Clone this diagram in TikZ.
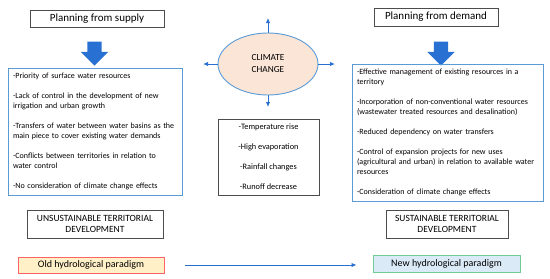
\documentclass[tikz,border=0pt]{standalone}
\usepackage{fontspec}
\setmainfont{Carlito}
\usepackage{tikz}
\usetikzlibrary{arrows.meta,shapes.geometric,shapes.arrows}
\definecolor{arrowblue}{RGB}{40,112,210}
\definecolor{frameblue}{RGB}{91,155,213}
\definecolor{climfill}{RGB}{251,229,214}
\definecolor{oldfill}{RGB}{255,240,200}
\definecolor{oldline}{RGB}{250,100,100}
\definecolor{newfill}{RGB}{218,234,247}
\definecolor{newline}{RGB}{110,205,150}

\begin{document}
\begin{tikzpicture}[x=1pt, y=-1pt, >={Latex[length=5pt,width=4.5pt]},
  title/.style={draw=black!70, line width=0.6pt, align=center, inner sep=0pt, font=\fontsize{11}{12}\selectfont},
  devbox/.style={draw=black!70, line width=0.6pt, align=center, inner sep=0pt, font=\fontsize{9.5}{11}\selectfont},
  listbox/.style={draw=frameblue, line width=0.8pt, align=left, inner xsep=5pt, inner ysep=0pt, font=\fontsize{8}{10}\selectfont},
  bigarrow/.style={single arrow, fill=arrowblue, rotate=-90, inner xsep=0pt, inner ysep=7pt, minimum height=24pt, minimum width=27pt, single arrow head extend=6.5pt},
  paradigm/.style={line width=0.9pt, align=center, inner sep=0pt, font=\fontsize{10}{11}\selectfont},
  thin/.style={->, draw=arrowblue, line width=1pt}]
  \useasboundingbox (0,0) rectangle (550,279);

  \node[title, minimum width=134pt, minimum height=17pt] (supply) at (97,18.5) {Planning from supply};
  \node[title, minimum width=124pt, minimum height=18pt] (demand) at (436,17) {Planning from demand};
  \node[bigarrow] (suparrow) at (94.5,50) {};
  \node[bigarrow] (demarrow) at (441,50) {};

  \node[listbox, text width=164pt, minimum height=127pt] (oldlist) at (95,131.5)
    {-Priority of surface water resources\\[10pt]
     -Lack of control in the development of new\\ irrigation and urban growth\\[10pt]
     -Transfers of water between water basins as the\\ main piece to cover existing water demands\\[10pt]
     -Conflicts between territories in relation to\\ water control\\[10pt]
     -No consideration of climate change effects};
  \node[listbox, text width=181pt, minimum height=137pt] (newlist) at (447.5,132.5)
    {-Effective management of existing resources in a\\ territory\\[10pt]
     -Incorporation of non-conventional water resources\\ (wastewater treated resources and desalination)\\[10pt]
     -Reduced dependency on water transfers\\[10pt]
     -Control of expansion projects for new uses\\ (agricultural and urban) in relation to available water\\ resources\\[10pt]
     -Consideration of climate change effects};

  \node[ellipse, draw=frameblue, fill=climfill, line width=0.9pt, minimum width=100pt, minimum height=62pt, align=center, font=\fontsize{9.3}{12}\selectfont] (climate) at (268,64) {CLIMATE\\ CHANGE};
  \node[draw=black!70, line width=0.6pt, minimum width=101pt, minimum height=76pt, inner sep=0pt, align=center, font=\fontsize{8.3}{10}\selectfont] (effects) at (268.5,157)
    {-Temperature rise\\[10pt] -High evaporation\\[10pt] -Rainfall changes\\[10pt] -Runoff decrease};
  \coordinate (cup) at (268,18);
  \coordinate (cleft) at (203,64);
  \coordinate (cright) at (335,64);
  \coordinate (cdown) at (268,107);
  \draw[thin] (climate.north) -- (cup);
  \draw[thin] (climate.west) -- (cleft);
  \draw[thin] (climate.east) -- (cright);
  \draw[thin] (climate.south) -- (cdown);

  \node[devbox, minimum width=136pt, minimum height=28pt] (unsust) at (95,224) {UNSUSTAINABLE TERRITORIAL\\ DEVELOPMENT};
  \node[devbox, minimum width=122pt, minimum height=28pt] (sust) at (447,224) {SUSTAINABLE TERRITORIAL\\ DEVELOPMENT};

  \node[paradigm, draw=oldline, fill=oldfill, minimum width=146pt, minimum height=16pt] (oldpar) at (91,265) {Old hydrological paradigm};
  \node[paradigm, draw=newline, fill=newfill, minimum width=147pt, minimum height=17pt] (newpar) at (446.5,263.5) {New hydrological paradigm};
  \draw[thin, shorten <=21pt, shorten >=16pt] (oldpar.east) -- (newpar.west |- oldpar.east);
\end{tikzpicture}
\end{document}
